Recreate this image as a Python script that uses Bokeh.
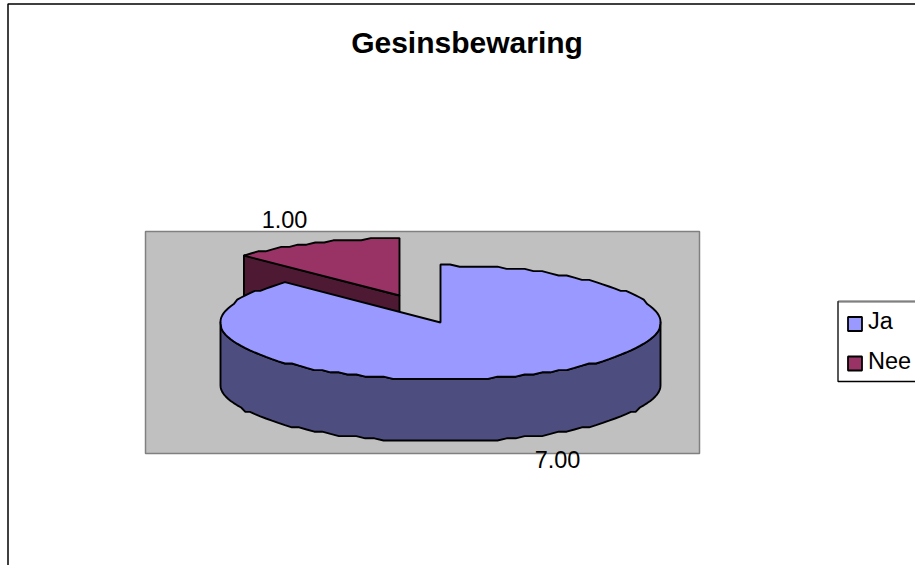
import numpy as np
from bokeh.plotting import figure
from bokeh.models import Range1d
from bokeh.core.properties import value
from bokeh.embed import file_html
from bokeh.resources import INLINE

# ---- data ----
categories = ["Ja", "Nee"]
values = [7, 1]
labels = ["7.00", "1.00"]
title_text = "Gesinsbewaring"

# ---- styles ----
top_colors = ["#9999FF", "#993366"]
side_colors = ["#4D4D80", "#4D1933"]
FONT = value("Liberation Sans")
W, H = 915, 565
RX, RY, DEPTH = 220, 57, 62
CENTERS = [(440, 322), (399, 295)]
LW = 1.9

p = figure(width=W, height=H, output_backend="svg", toolbar_location=None,
           x_range=Range1d(0, W), y_range=Range1d(H, 0), min_border=0,
           styles={"position": "absolute", "left": "0px", "top": "0px"})
p.axis.visible = False
p.grid.visible = False
p.outline_line_color = None
p.background_fill_color = "white"
p.border_fill_color = "white"


def arc(cx, cy, a0, a1, dy=0):
    """Ellipse points, angles clockwise from the top, with the coarse edge of the picture."""
    n = max(2, int(abs(a1 - a0) / np.radians(2.5)) + 1)
    t = np.linspace(a0, a1, n)
    x = cx + RX * np.sin(t)
    y = cy + dy - RY * np.cos(t)
    return x, np.round(y / 2.2) * 2.2


# chart-area frame
p.line([7.5, 7.5, W + 5], [H + 5, 3.5, 3.5], line_color="black", line_width=1.5)
# plot area
p.quad(left=[145], right=[699], top=[231], bottom=[453], fill_color="#C0C0C0",
       line_color="#808080", line_width=1.5)

fractions = np.array(values, dtype=float) / sum(values)
ends = np.cumsum(fractions) * 2 * np.pi
starts = np.concatenate([[0], ends[:-1]])

# Nee: cut face, then top
cx, cy = CENTERS[1]
a0, a1 = starts[1], ends[1]
ex, ey = cx + RX * np.sin(a0), cy - RY * np.cos(a0)
p.patch([ex, cx, cx, ex], [ey, cy, cy + DEPTH, ey + DEPTH], fill_color=side_colors[1],
        line_color="black", line_width=LW)
ax, ay = arc(cx, cy, a0, a1)
p.patch(np.r_[cx, ax], np.r_[cy, ay], fill_color=top_colors[1], line_color="black", line_width=LW)

# Ja: rim, then top
cx, cy = CENTERS[0]
fx, fy = arc(cx, cy, np.pi / 2, 3 * np.pi / 2)
bx, by = arc(cx, cy, 3 * np.pi / 2, np.pi / 2, dy=DEPTH)
p.patch(np.r_[fx, bx], np.r_[fy, by], fill_color=side_colors[0], line_color="black", line_width=LW)
ax, ay = arc(cx, cy, starts[0], ends[0])
p.patch(np.r_[cx, ax], np.r_[cy, ay], fill_color=top_colors[0], line_color="black", line_width=LW)

# value labels
p.text([557, 284], [459, 219], text=labels, text_font=FONT, text_font_size="23.5px",
       text_color="black", text_align="center", text_baseline="alphabetic")
# title
p.text([466.5], [41.5], text=[title_text], text_font=FONT, text_font_size="30px",
       text_font_style="bold", text_color="black", text_align="center", text_baseline="alphabetic")

# legend
p.line([W + 5, 837.5, 837.5, W + 5], [381, 381, 301, 301], line_color="black", line_width=1.3)
p.line([838, W + 5], [301, 301], line_color="#808080", line_width=1.5)
p.quad(left=[847.5, 847.5], right=[861.5, 861.5], top=[316.5, 356], bottom=[330.5, 370],
       fill_color=top_colors, line_color="black", line_width=1.8)
p.text([867.5, 867.5], [320, 360], text=categories, text_font=FONT, text_font_size="23.5px",
       text_color="black", text_align="left", text_baseline="alphabetic")

open("out.html", "w").write(file_html(p, INLINE))
